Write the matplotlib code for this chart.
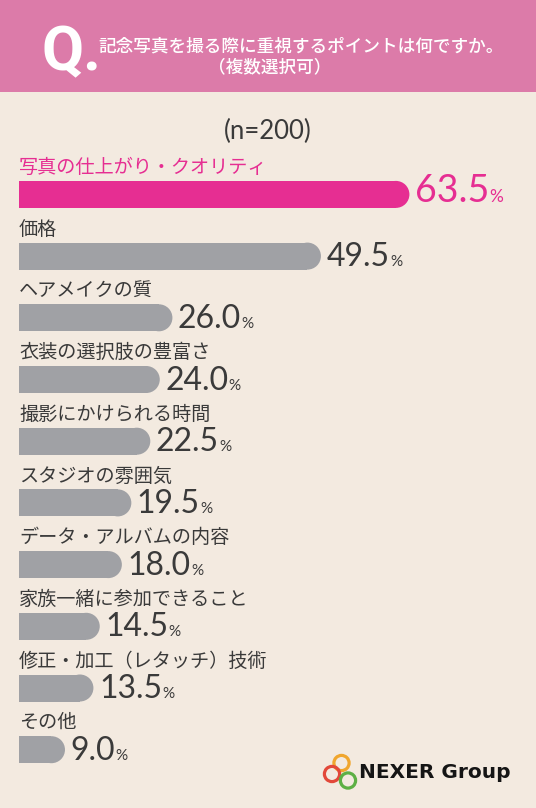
import numpy as np
import matplotlib
matplotlib.use('Agg')
import matplotlib.pyplot as plt
from matplotlib.patches import Rectangle, Circle

# data
categories = [
    '写真の仕上がり・クオリティ',
    '価格',
    'ヘアメイクの質',
    '衣装の選択肢の豊富さ',
    '撮影にかけられる時間',
    'スタジオの雰囲気',
    'データ・アルバムの内容',
    '家族一緒に参加できること',
    '修正・加工（レタッチ）技術',
    'その他',
]
values = [63.5, 49.5, 26.0, 24.0, 22.5, 19.5, 18.0, 14.5, 13.5, 9.0]
title_lines = ['記念写真を撮る際に重視するポイントは何ですか。', '（複数選択可）']
sample_note = '(n=200)'
brand = 'NEXER Group'

# colours
BG = '#F3EAE0'
HEADER = '#DC7BA9'
PINK = '#E62E92'
GRAY = '#A0A1A5'
TEXT = '#3A3A3A'
JP = ['Noto Sans CJK JP', 'DejaVu Sans']

# layout (pixels)
W, H = 536, 808
ax_left_px = 19
zero_px = 8.1
px_per_pct = 6.32
row0_px = 194.4
row_pitch = 61.7
bar_px = 27
PT = 0.72  # points per pixel at dpi 100

fig = plt.figure(figsize=(W / 100, H / 100), dpi=100, facecolor=BG)

# decoration layer in pixel coordinates
deco = fig.add_axes([0, 0, 1, 1])
deco.set_xlim(0, W)
deco.set_ylim(H, 0)
deco.axis('off')
deco.add_patch(Rectangle((0, 0), W, 92, color=HEADER, lw=0))
for (cx, cy), col in zip([(341.5, 763), (332, 774), (348, 780.5)],
                         ['#F0A62E', '#E2483A', '#5DB045']):
    deco.add_patch(Circle((cx, cy), 7.6, fill=False, ec=col, lw=2.3))

fig.text(41 / W, 1 - 70 / H, 'Q.', fontsize=44, weight='bold', color='white',
         family='Roboto', va='baseline', ha='left')
fig.text(301 / W, 1 - 46 / H, title_lines[0], fontsize=12.7, color='white',
         family=JP, weight='medium', ha='center', va='center')
fig.text(270 / W, 1 - 67 / H, title_lines[1], fontsize=12.7, color='white',
         family=JP, weight='medium', ha='center', va='center')
fig.text(268 / W, 1 - 131 / H, sample_note, fontsize=18.5, color=TEXT,
         family='Lato', ha='center', va='center')
fig.text(359 / W, 1 - 773 / H, brand, fontsize=14.5, weight='bold', color='#151515',
         family='DejaVu Sans', ha='left', va='center')

# bar axes
ax = fig.add_axes([ax_left_px / W, 0, 1 - ax_left_px / W, 1])
ax.set_xlim((ax_left_px - zero_px) / px_per_pct, (W - zero_px) / px_per_pct)
ax.set_ylim((H - row0_px) / row_pitch, -row0_px / row_pitch)
ax.axis('off')

vals = np.array(values)
rows = np.arange(len(vals))
colors = [PINK] + [GRAY] * (len(vals) - 1)
cap_r = bar_px / 2 / px_per_pct
ax.barh(rows, vals - cap_r, left=0, height=bar_px / row_pitch, color=colors, lw=0)
ax.scatter(vals - cap_r, rows, s=(bar_px * PT) ** 2, c=colors, marker='o', linewidths=0)

for i, (cat, v) in enumerate(zip(categories, values)):
    first = i == 0
    col = PINK if first else TEXT
    ax.annotate(cat, xy=(0, i), xycoords=('axes fraction', 'data'),
                xytext=(0, 27 * PT), textcoords='offset points',
                ha='left', va='center', fontsize=13.8,
                color=PINK if first else TEXT, family=JP)
    base = -(8 if first else 10) * PT
    num = ax.annotate(f'{v:.1f}', xy=(v, i), xytext=(5.5 * PT, base),
                      textcoords='offset points', ha='left', va='baseline',
                      fontsize=27 if first else 23, color=col, family='Lato')
    ax.annotate('%', xy=(1, i), xycoords=(num, 'data'), xytext=(0.3, base),
                textcoords='offset points', ha='left', va='baseline',
                fontsize=12.5 if first else 11, color=col, family='Lato')

fig.savefig('out.png', dpi=100, facecolor=BG)
